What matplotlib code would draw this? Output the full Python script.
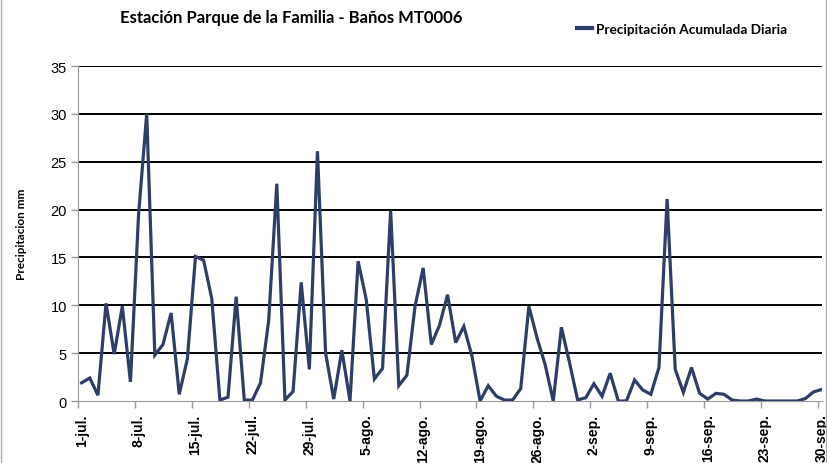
import matplotlib
matplotlib.use("Agg")
import matplotlib.pyplot as plt
from matplotlib.lines import Line2D

# Precipitación diaria 1-jul. .. 30-sep. (mm)
precipitacion = [
    1.9, 2.4, 0.6, 10.2, 4.9, 9.9, 2.0, 19.5, 30.0, 4.8,
    5.9, 9.2, 0.7, 4.4, 15.1, 14.7, 10.7, 0.1, 0.4, 10.9,
    0.1, 0.1, 1.9, 8.4, 22.7, 0.1, 1.0, 12.4, 3.3, 26.1,
    5.0, 0.2, 5.3, 0.0, 14.6, 10.6, 2.3, 3.4, 19.9, 1.6,
    2.7, 9.9, 13.9, 5.9, 7.9, 11.1, 6.1, 7.8, 4.7, 0.0,
    1.6, 0.5, 0.1, 0.1, 1.3, 9.9, 6.6, 3.8, 0.0, 7.7,
    4.0, 0.1, 0.35, 1.8, 0.5, 2.9, 0.0, 0.0, 2.2, 1.15,
    0.7, 3.5, 21.1, 3.3, 0.9, 3.5, 0.8, 0.2, 0.8, 0.7,
    0.1, 0.0, 0.0, 0.2, 0.0, 0.0, 0.0, 0.0, 0.0, 0.25,
    0.95, 1.2,
]
etiquetas = ["1-jul.", "8-jul.", "15-jul.", "22-jul.", "29-jul.", "5-ago.", "12-ago.",
             "19-ago.", "26-ago.", "2-sep.", "9-sep.", "16-sep.", "23-sep.", "30-sep."]
y_ticks = [0, 5, 10, 15, 20, 25, 30, 35]

LINE_COLOR = "#2F3E68"
NARROW = ["Lato", "DejaVu Sans"]
ARIAL = ["Liberation Sans", "DejaVu Sans"]

fig = plt.figure(figsize=(8.28, 4.64), dpi=100)
ax = fig.add_axes([78 / 828, 1 - 402 / 464, 744 / 828, 335 / 464])

dias = list(range(len(precipitacion)))
ax.plot(dias, precipitacion, color=LINE_COLOR, linewidth=2.3,
        solid_joinstyle="miter", label="Precipitación Acumulada Diaria", zorder=3)

ax.set_xlim(-0.45, 91.05)
ax.set_ylim(0, 35)

# rejilla horizontal
ax.set_yticks(y_ticks)
ax.set_yticklabels([str(v) for v in y_ticks], family=ARIAL, fontsize=10.5)
for v in y_ticks[1:]:
    ax.axhline(v, color="black", linewidth=1.4, zorder=1)

# etiquetas cada 7 días, marcas entre categorías
ax.set_xticks(list(range(0, 92, 7)))
ax.set_xticklabels(etiquetas, rotation=90, family=ARIAL, fontsize=10, fontweight="bold")
ax.set_xticks([6.55 + 7 * k for k in range(13)] + [-0.45], minor=True)
ax.tick_params(axis="x", which="major", length=0, pad=9)
ax.tick_params(axis="x", which="minor", length=5, color="#999999", width=1)
ax.tick_params(axis="y", length=5, color="#999999", width=1, pad=3)

for s in ["top", "right"]:
    ax.spines[s].set_visible(False)
ax.spines["left"].set_color("#999999")
ax.spines["bottom"].set_color("#999999")

ax.set_ylabel("Precipitacion mm", family=NARROW, fontsize=8.5, fontweight="bold", labelpad=17)

fig.text(120 / 828, 1 - 18 / 464, "Estación Parque de la Familia - Baños MT0006",
         family=NARROW, fontsize=12, fontweight="bold", va="center", ha="left")

leg = fig.legend(handles=[Line2D([], [], color=LINE_COLOR, linewidth=3)],
                 labels=["Precipitación Acumulada Diaria"],
                 loc="center left", bbox_to_anchor=(570 / 828, 1 - 30 / 464),
                 frameon=False, handlelength=1.1, handletextpad=0.3, borderpad=0,
                 prop={"family": NARROW, "size": 9.8, "weight": "bold"})

# borde del área del gráfico
fig.add_artist(Line2D([1.5 / 828, 1.5 / 828], [0, 1], color="#aaaaaa", linewidth=1))
fig.add_artist(Line2D([826 / 828, 826 / 828], [0, 1], color="#aaaaaa", linewidth=1))

fig.savefig("out.png", dpi=100)
